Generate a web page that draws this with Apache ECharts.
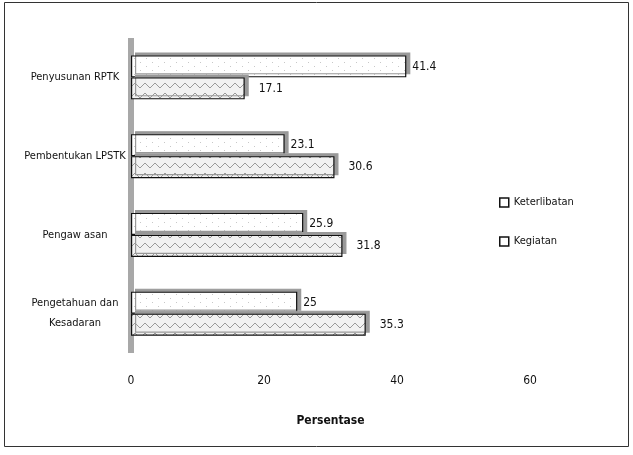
<!DOCTYPE html>
<html>
<head>
<meta charset="utf-8">
<script src="https://cdn.jsdelivr.net/npm/echarts@6/dist/echarts.min.js"></script>
<style>
  html, body { margin: 0; padding: 0; background: #fff; }
  #chart { width: 633px; height: 455px; }
</style>
</head>
<body>
<div id="chart"></div>
<script>
var categories = ['Penyusunan RPTK', 'Pembentukan LPSTK', 'Pengaw asan', 'Pengetahuan dan\nKesadaran'];
var keterlibatan = [41.4, 23.1, 25.9, 25];
var kegiatan = [17.1, 30.6, 31.8, 35.3];
var seriesNames = ['Keterlibatan', 'Kegiatan'];

var font = '"DejaVu Sans Condensed", "Liberation Sans Narrow", "Liberation Sans", Arial, sans-serif';

// light dotted fill
function dotPattern() {
    var c = document.createElement('canvas');
    c.width = 12; c.height = 8;
    var g = c.getContext('2d');
    g.fillStyle = '#fff';
    g.fillRect(0, 0, 12, 8);
    g.fillStyle = '#c8c8c8';
    g.fillRect(2, 2, 1, 1);
    g.fillRect(8, 6, 1, 1);
    return c;
}
// zigzag hatch fill
function zigPattern() {
    var c = document.createElement('canvas');
    c.width = 10; c.height = 10;
    var g = c.getContext('2d');
    g.fillStyle = '#f2f2f2';
    g.fillRect(0, 0, 10, 10);
    g.strokeStyle = '#9a9a9a';
    g.lineWidth = 1;
    g.beginPath();
    g.moveTo(0, 8); g.lineTo(5, 3); g.lineTo(10, 8);
    g.stroke();
    return c;
}

var chart = echarts.init(document.getElementById('chart'));
var option = {
    animation: false,
    textStyle: { fontFamily: font },
    graphic: [{
        type: 'rect',
        shape: { x: 4.5, y: 2.5, width: 624, height: 444 },
        style: { fill: 'none', stroke: '#333', lineWidth: 1 }
    }],
    grid: { left: 131, right: 103, top: 38, bottom: 102 },
    legend: {
        orient: 'vertical',
        left: 494,
        top: 192,
        itemGap: 27,
        itemWidth: 9,
        itemHeight: 9,
        itemGap: 28,
        icon: 'rect',
        textStyle: { fontSize: 11, color: '#111', fontFamily: font },
        data: [
            { name: seriesNames[0], itemStyle: { color: '#fff', borderColor: '#111', borderWidth: 1.5 } },
            { name: seriesNames[1], itemStyle: { color: '#fff', borderColor: '#111', borderWidth: 1.5 } }
        ]
    },
    xAxis: {
        type: 'value',
        min: 0,
        max: 60,
        interval: 20,
        name: 'Persentase',
        nameLocation: 'middle',
        nameGap: 62,
        nameTextStyle: { fontSize: 12, fontWeight: 'bold', color: '#111', fontFamily: font },
        axisLine: { show: false },
        axisTick: { show: false },
        splitLine: { show: false },
        axisLabel: { margin: 22, fontSize: 12, color: '#111' }
    },
    yAxis: {
        type: 'category',
        inverse: true,
        data: categories,
        axisLine: { show: true, lineStyle: { color: '#a8a8a8', width: 6, cap: 'butt' } },
        axisTick: { show: false },
        axisLabel: { margin: 56, align: 'center', fontSize: 11, color: '#111', lineHeight: 20 }
    },
    series: [{
        name: seriesNames[0],
        type: 'bar',
        data: keterlibatan,
        barWidth: 22,
        barGap: '0%',
        itemStyle: {
            color: { image: dotPattern(), repeat: 'repeat' },
            borderColor: '#111', borderWidth: 1.2,
            shadowColor: '#999', shadowOffsetX: 4, shadowOffsetY: -3, shadowBlur: 0
        },
        label: { show: true, position: 'right', distance: 6, fontSize: 12, color: '#111' }
    }, {
        name: seriesNames[1],
        type: 'bar',
        data: kegiatan,
        barWidth: 22,
        itemStyle: {
            color: { image: zigPattern(), repeat: 'repeat' },
            borderColor: '#111', borderWidth: 1.2,
            shadowColor: '#999', shadowOffsetX: 4, shadowOffsetY: -3, shadowBlur: 0
        },
        label: { show: true, position: 'right', distance: 14, fontSize: 12, color: '#111' }
    }]
};
chart.setOption(option);
</script>
</body>
</html>
